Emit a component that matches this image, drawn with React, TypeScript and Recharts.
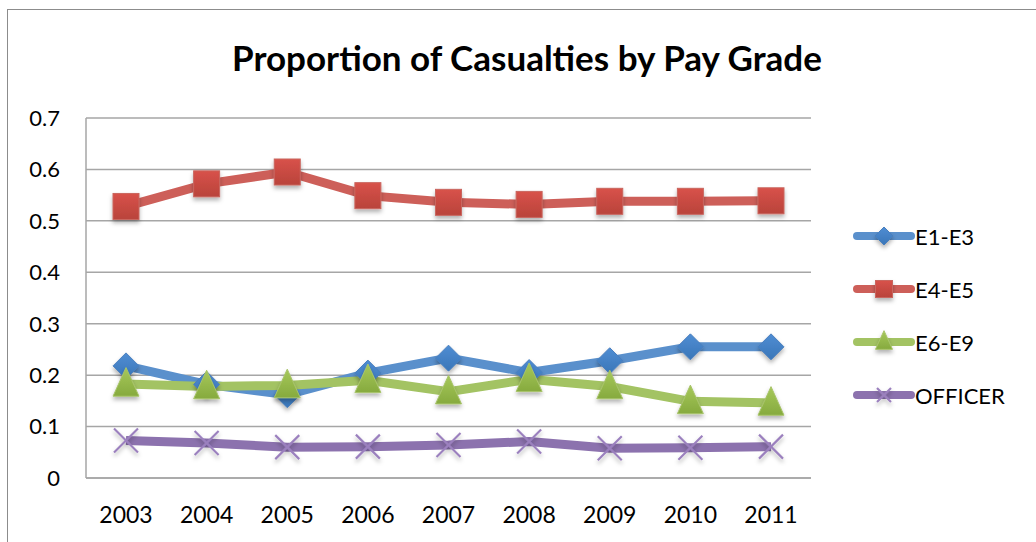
import React from "react";
import { LineChart, Line, XAxis, YAxis, CartesianGrid, Legend } from "recharts";

const years = ["2003", "2004", "2005", "2006", "2007", "2008", "2009", "2010", "2011"];
const e1e3 = [0.218, 0.182, 0.162, 0.204, 0.233, 0.205, 0.228, 0.255, 0.255];
const e4e5 = [0.528, 0.572, 0.595, 0.549, 0.536, 0.532, 0.538, 0.538, 0.539];
const e6e9 = [0.183, 0.178, 0.18, 0.19, 0.168, 0.192, 0.178, 0.149, 0.146];
const officer = [0.073, 0.068, 0.06, 0.061, 0.064, 0.071, 0.058, 0.059, 0.061];
const yTicks = [0, 0.1, 0.2, 0.3, 0.4, 0.5, 0.6, 0.7];

const data = years.map((y, i) => ({
  year: y,
  "E1-E3": e1e3[i],
  "E4-E5": e4e5[i],
  "E6-E9": e6e9[i],
  OFFICER: officer[i],
}));

const FONT = "Lato, 'Open Sans', sans-serif";

const colors = {
  blue: { line: "#5A90CC", fill: "url(#gBlue)", stroke: "#4A7FBE" },
  red: { line: "#CD5F59", fill: "url(#gRed)", stroke: "#C9665F" },
  green: { line: "#A3C363", fill: "url(#gGreen)", stroke: "#A8C46A" },
  purple: { line: "#8C72AE", stroke: "#9B80BE" },
};

const Diamond = (props: any) => {
  const { cx, cy, size = 13 } = props;
  if (cx == null || cy == null) return null;
  const s = size;
  return (
    <path
      d={`M${cx},${cy - s} L${cx + s},${cy} L${cx},${cy + s} L${cx - s},${cy} Z`}
      fill={colors.blue.fill}
      stroke={colors.blue.stroke}
      strokeWidth={1}
      filter="url(#shadow)"
    />
  );
};

const Square = (props: any) => {
  const { cx, cy, size = 13 } = props;
  if (cx == null || cy == null) return null;
  return (
    <rect
      x={cx - size}
      y={cy - size}
      width={size * 2}
      height={size * 2}
      fill={colors.red.fill}
      stroke={colors.red.stroke}
      strokeWidth={1}
      filter="url(#shadow)"
    />
  );
};

const Triangle = (props: any) => {
  const { cx, cy, size = 13 } = props;
  if (cx == null || cy == null) return null;
  const h = size * 1.1;
  return (
    <path
      d={`M${cx},${cy - h - 2} L${cx + size},${cy + h - 2} L${cx - size},${cy + h - 2} Z`}
      fill={colors.green.fill}
      stroke={colors.green.stroke}
      strokeWidth={1}
      filter="url(#shadow)"
    />
  );
};

const Cross = (props: any) => {
  const { cx, cy, size = 12 } = props;
  if (cx == null || cy == null) return null;
  return (
    <g filter="url(#shadow)">
      <line x1={cx - size} y1={cy - size} x2={cx + size} y2={cy + size} stroke={colors.purple.stroke} strokeWidth={2.2} />
      <line x1={cx - size} y1={cy + size} x2={cx + size} y2={cy - size} stroke={colors.purple.stroke} strokeWidth={2.2} />
    </g>
  );
};

const markerFor: Record<string, (p: any) => any> = {
  "E1-E3": (p) => <Diamond {...p} size={9} />,
  "E4-E5": (p) => <Square {...p} size={8.5} />,
  "E6-E9": (p) => <Triangle {...p} size={8.5} />,
  OFFICER: (p) => <Cross {...p} size={7} />,
};

const LegendContent = (props: any) => {
  const payload = props.payload || [];
  return (
    <div style={{ position: "relative", width: 180, height: 220 }}>
      {payload.map((entry: any, i: number) => (
        <div
          key={entry.value}
          style={{ position: "absolute", left: 0, top: i * 53, display: "flex", alignItems: "center", height: 30 }}
        >
          <svg width={62} height={30} style={{ overflow: "visible" }}>
            <line x1={4} y1={15} x2={58} y2={15} stroke={entry.color} strokeWidth={8} strokeLinecap="round" />
            {markerFor[entry.value]({ cx: 31, cy: 15 })}
          </svg>
          <span style={{ fontFamily: FONT, fontSize: 22, color: "#000", marginLeft: 0 }}>{entry.value}</span>
        </div>
      ))}
    </div>
  );
};

export default function App() {
  return (
    <div style={{ position: "absolute", left: 0, top: 0, width: 1036, height: 542, background: "#fff", overflow: "hidden" }}>
      <div
        style={{
          position: "absolute",
          left: 7,
          top: 9,
          width: 1040,
          height: 560,
          borderLeft: "1.5px solid #8c8c8c",
          borderTop: "1.5px solid #8c8c8c",
        }}
      />
      <div
        style={{
          position: "absolute",
          left: 0,
          width: 1036,
          top: 36,
          textAlign: "center",
          fontFamily: FONT,
          fontWeight: 700,
          fontSize: 35,
          color: "#000",
          paddingLeft: 18,
          boxSizing: "border-box",
        }}
      >
        Proportion of Casualties by Pay Grade
      </div>
      <div style={{ position: "absolute", left: 0, top: 0 }}>
        <LineChart width={1036} height={542} data={data} margin={{ top: 118, right: 225, bottom: 24, left: 0 }}>
          <defs>
            <filter id="shadow" x="-50%" y="-50%" width="200%" height="200%">
              <feDropShadow dx="0" dy="3" stdDeviation="2" floodColor="#000" floodOpacity="0.3" />
            </filter>
            <linearGradient id="gBlue" x1="0" y1="0" x2="0" y2="1">
              <stop offset="0%" stopColor="#4F8DD3" />
              <stop offset="100%" stopColor="#3A76B8" />
            </linearGradient>
            <linearGradient id="gRed" x1="0" y1="0" x2="0" y2="1">
              <stop offset="0%" stopColor="#D8524A" />
              <stop offset="100%" stopColor="#B9433B" />
            </linearGradient>
            <linearGradient id="gGreen" x1="0" y1="0" x2="0" y2="1">
              <stop offset="0%" stopColor="#A6C85A" />
              <stop offset="100%" stopColor="#86AA3E" />
            </linearGradient>
          </defs>
          <CartesianGrid vertical={false} stroke="#a6a6a6" strokeWidth={1.5} />
          <XAxis
            dataKey="year"
            padding={{ left: 40, right: 40 }}
            axisLine={{ stroke: "#a6a6a6", strokeWidth: 1.5 }}
            tickLine={false}
            tickSize={0}
            tickMargin={29}
            height={40}
            tick={{ fill: "#000", fontFamily: FONT, fontSize: 23 }}
          />
          <YAxis
            domain={[0, 0.7]}
            ticks={yTicks}
            interval={0}
            width={86}
            axisLine={{ stroke: "#a6a6a6", strokeWidth: 1.5 }}
            tickLine={false}
            tickSize={0}
            tickMargin={26}
            tick={{ fill: "#000", fontFamily: FONT, fontSize: 22 }}
            tickFormatter={(v: number) => (v === 0 ? "0" : v.toFixed(1))}
          />
          <Legend
            layout="vertical"
            align="center"
            verticalAlign="middle"
            content={<LegendContent />}
            wrapperStyle={{ position: "absolute", left: 853, top: 221, width: 180, height: 220 }}
          />
          <Line
            dataKey="E1-E3"
            stroke={colors.blue.line}
            strokeWidth={9}
            isAnimationActive={false}
            dot={(p: any) => <Diamond key={`b${p.index}`} cx={p.cx} cy={p.cy} />}
            activeDot={false}
          />
          <Line
            dataKey="E4-E5"
            stroke={colors.red.line}
            strokeWidth={9}
            isAnimationActive={false}
            dot={(p: any) => <Square key={`r${p.index}`} cx={p.cx} cy={p.cy} />}
            activeDot={false}
          />
          <Line
            dataKey="E6-E9"
            stroke={colors.green.line}
            strokeWidth={9}
            isAnimationActive={false}
            dot={(p: any) => <Triangle key={`g${p.index}`} cx={p.cx} cy={p.cy} />}
            activeDot={false}
          />
          <Line
            dataKey="OFFICER"
            stroke={colors.purple.line}
            strokeWidth={9}
            isAnimationActive={false}
            dot={(p: any) => <Cross key={`p${p.index}`} cx={p.cx} cy={p.cy} />}
            activeDot={false}
          />
        </LineChart>
      </div>
    </div>
  );
}
